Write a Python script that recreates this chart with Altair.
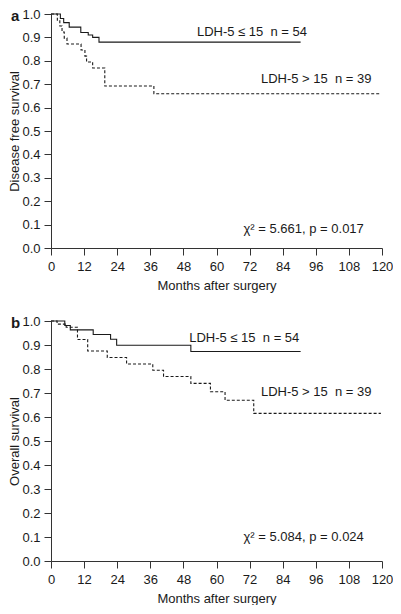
import altair as alt
import pandas as pd

FONT = "Liberation Sans"
INK = "#1a1a1a"

# ---- Panel a: disease free survival (Kaplan-Meier steps)
a_low_t = [0, 3.4, 4.6, 6.6, 10.8, 13.5, 15.1, 17.4, 90.5]
a_low_s = [1.0, 0.981, 0.963, 0.944, 0.921, 0.910, 0.900, 0.880, 0.880]
a_high_t = [0, 2.3, 3.2, 4.0, 4.8, 5.8, 10.9, 12.3, 12.9, 15.1, 19.5, 37.3, 119.5]
a_high_s = [1.0, 0.974, 0.949, 0.923, 0.897, 0.872, 0.846, 0.820, 0.795, 0.769, 0.692, 0.659, 0.659]

# ---- Panel b: overall survival
b_low_t = [0, 5.0, 7.0, 15.3, 21.6, 23.8, 50.7, 90.5]
b_low_s = [1.0, 0.981, 0.963, 0.944, 0.924, 0.899, 0.873, 0.873]
b_high_t = [0, 2.2, 5.5, 9.6, 13.3, 20.4, 27.4, 36.9, 40.8, 50.7, 57.8, 63.1, 73.5, 119.6]
b_high_s = [1.0, 0.987, 0.974, 0.923, 0.875, 0.848, 0.821, 0.795, 0.769, 0.740, 0.705, 0.670, 0.615, 0.615]

# ---- annotations
ann_text = ["LDH-5 \u2264 15\u00a0\u00a0n = 54", "LDH-5 > 15\u00a0\u00a0n = 39"]
a_ann_x = [52.9, 76.1]
a_ann_y = [0.906, 0.704]
b_ann_x = [50.1, 76.1]
b_ann_y = [0.913, 0.686]
chi_text = ["\u03c7\u00b2 = 5.661, p = 0.017", "\u03c7\u00b2 = 5.084, p = 0.024"]
chi_x = [69.8, 69.8]
chi_y = [0.063, 0.085]

x_ticks = list(range(0, 121, 12))
y_ticks = [round(i / 10, 1) for i in range(11)]


def panel(low_t, low_s, high_t, high_s, ann_x, ann_y, chi, cx, cy, ytitle, letter, h):
    xs = alt.Scale(domain=[0, 120], nice=False)
    ys = alt.Scale(domain=[0, 1], nice=False)
    xax = alt.Axis(values=x_ticks, title="Months after surgery",
                   labelOverlap=False, labelFlush=False)
    yax = alt.Axis(values=y_ticks, format=".1f", title=ytitle,
                   labelOverlap=False, labelFlush=False)

    low = alt.Chart(pd.DataFrame({"t": low_t, "s": low_s})).mark_line(
        interpolate="step-after", color=INK, strokeWidth=1.1
    ).encode(x=alt.X("t:Q", scale=xs, axis=xax), y=alt.Y("s:Q", scale=ys, axis=yax))

    high = alt.Chart(pd.DataFrame({"t": high_t, "s": high_s})).mark_line(
        interpolate="step-after", color=INK, strokeWidth=1.1, strokeDash=[3, 2]
    ).encode(x=alt.X("t:Q", scale=xs, axis=xax), y=alt.Y("s:Q", scale=ys, axis=yax))

    ann = alt.Chart(pd.DataFrame({"t": ann_x, "s": ann_y, "label": ann_text})).mark_text(
        align="left", baseline="alphabetic", font=FONT, fontSize=13, color=INK
    ).encode(x=alt.X("t:Q", scale=xs, axis=xax), y=alt.Y("s:Q", scale=ys, axis=yax),
             text="label:N")

    chi_t = alt.Chart(pd.DataFrame({"t": [cx], "s": [cy], "label": [chi]})).mark_text(
        align="left", baseline="alphabetic", font=FONT, fontSize=13, color=INK
    ).encode(x=alt.X("t:Q", scale=xs, axis=xax), y=alt.Y("s:Q", scale=ys, axis=yax),
             text="label:N")

    let = alt.Chart(pd.DataFrame({"label": [letter]})).mark_text(
        align="left", baseline="top", font=FONT, fontSize=15, fontWeight="bold", color=INK
    ).encode(x=alt.value(-40), y=alt.value(-5), text="label:N")

    return alt.layer(low, high, ann, chi_t, let).properties(width=331, height=h)


pa = panel(a_low_t, a_low_s, a_high_t, a_high_s, a_ann_x, a_ann_y,
           chi_text[0], chi_x[0], chi_y[0], "Disease free survival", "a", 234)
pb = panel(b_low_t, b_low_s, b_high_t, b_high_s, b_ann_x, b_ann_y,
           chi_text[1], chi_x[1], chi_y[1], "Overall survival", "b", 240)

chart = alt.vconcat(pa, pb, spacing=23).properties(
    padding={"left": 0, "top": 0, "right": 0, "bottom": 0}
).configure_view(stroke=None).configure_axis(
    grid=False, labelOverlap=False, labelFlush=False,
    labelFont=FONT, labelFontSize=13, labelColor=INK,
    titleFont=FONT, titleFontSize=13, titleFontWeight="normal", titleColor=INK,
    tickSize=7, labelPadding=4, domainColor="#333", tickColor="#333",
    domainWidth=1, tickWidth=1,
).configure_axisY(titlePadding=0).configure_axisX(titlePadding=6, labelPadding=5)

chart.save("out.html", embed_options={"renderer": "svg", "actions": False})
